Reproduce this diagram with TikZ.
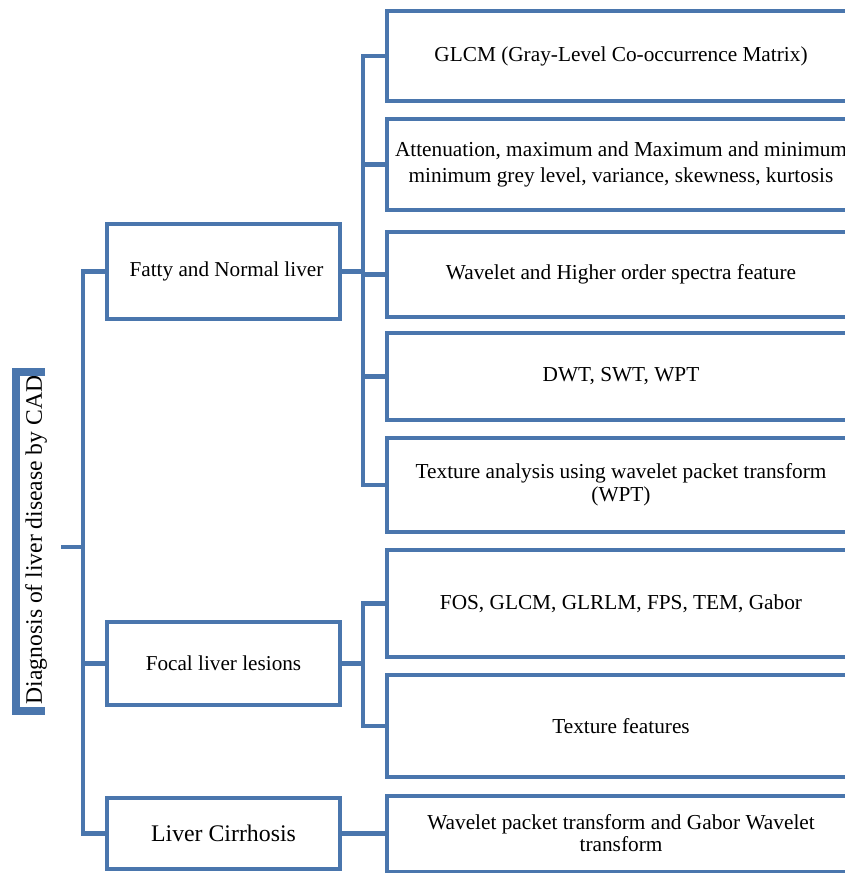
\documentclass[tikz,border=0pt]{standalone}
\usepackage{fontspec}
\setmainfont{Liberation Serif}
\begin{document}
\definecolor{treeblue}{RGB}{74,118,173}
\begin{tikzpicture}[x=1pt,y=-1pt,
  link/.style={draw=treeblue,line width=4.5pt},
  catbox/.style={draw=treeblue,line width=4.5pt,fill=white,minimum width=233pt,
    inner sep=2pt,outer sep=0pt,font=\fontsize{21.2}{24}\selectfont,align=center},
  featbox/.style={draw=treeblue,line width=4.5pt,fill=white,minimum width=468pt,
    inner sep=2pt,outer sep=0pt,font=\fontsize{21.3}{24}\selectfont,align=center}]
\useasboundingbox (0,0) rectangle (845,873);
\begin{scope}
\clip (0,0) rectangle (845,873);

% root label with its bracket
\node[rotate=90,font=\fontsize{23.6}{26}\selectfont,inner sep=0pt] (root) at (36,540) {Diagnosis of liver disease by CAD};
\draw[draw=treeblue,line width=8pt] (45,372) -- (16,372) -- (16,711) -- (45,711);
\coordinate (rootout) at (61,547);

% disease categories
\node[catbox,minimum height=95pt] (fatty) at (223.5,271.5) {\hspace*{6pt}\raisebox{-2pt}{Fatty and Normal liver}};
\node[catbox,minimum height=83pt] (focal) at (223.5,663.5) {\raisebox{-1pt}{Focal liver lesions}};
\node[catbox,minimum height=71pt,font=\fontsize{23.8}{26}\selectfont] (cirr) at (223.5,833.5) {Liver Cirrhosis};

% feature groups
\node[featbox,minimum height=90pt] (g1) at (621,56) {\raisebox{-3pt}{GLCM (Gray-Level Co-occurrence Matrix)}};
\node[featbox,minimum height=91pt,font=\fontsize{21.3}{25.5}\selectfont] (g2) at (621,164.5) {\makebox[0pt][c]{Attenuation, maximum and Maximum and minimum}\\minimum grey level, variance, skewness, kurtosis};
\node[featbox,minimum height=85pt] (g3) at (621,274.5) {\raisebox{-1pt}{Wavelet and Higher order spectra feature}};
\node[featbox,minimum height=87pt] (g4) at (621,376.5) {DWT, SWT, WPT};
\node[featbox,minimum height=94pt,font=\fontsize{21.3}{23.5}\selectfont] (g5) at (621,485) {Texture analysis using wavelet packet transform\\(WPT)};
\node[featbox,minimum height=107pt] (h1) at (621,603.5) {FOS, GLCM, GLRLM, FPS, TEM, Gabor};
\node[featbox,minimum height=102pt] (h2) at (621,726) {Texture features};
\node[featbox,minimum height=76pt,anchor=north,font=\fontsize{21.3}{22}\selectfont] (k1) at (621,796) {\\[-8pt]Wavelet packet transform and Gabor Wavelet\\transform};

% trunk
\draw[link] (rootout) -- (83,547);
\draw[link] (fatty.west) -- ++(-24,0) |- (cirr.west);
\draw[link] (focal.west) -- ++(-24,0);

% fatty and normal liver branch
\draw[link] (fatty.east) -- ++(23,0);
\draw[link] (g1.west) -- ++(-24,0) |- (g5.west);
\draw[link] (g2.west) -- ++(-24,0);
\draw[link] (g3.west) -- ++(-24,0);
\draw[link] (g4.west) -- ++(-24,0);

% focal lesion branch
\draw[link] (focal.east) -- ++(23,0);
\draw[link] (h1.west) -- ++(-24,0) |- (h2.west);

% cirrhosis branch
\draw[link] (cirr.east) -- (k1.west |- cirr.east);
\end{scope}
\end{tikzpicture}
\end{document}
